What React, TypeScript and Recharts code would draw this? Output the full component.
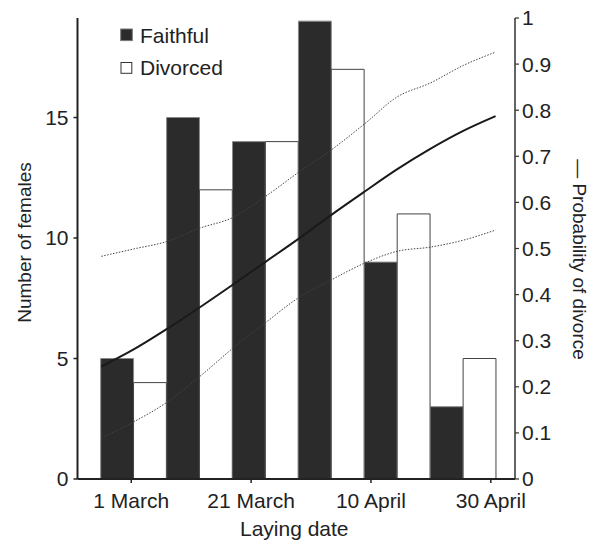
import React from 'react';
import { ComposedChart, Bar, Line, XAxis, YAxis, Legend } from 'recharts';

// Bar bins (day offset from 1 March, bin centres)
const binDays = [0.4, 11.4, 22.4, 33.4, 44.4, 55.4];
const faithful = [5, 15, 14, 19, 9, 3];
const divorced = [4, 12, 14, 17, 11, 5];

// Fitted probability of divorce with confidence limits
const curveDays = [-5, 0.4, 5.9, 11.4, 16.9, 22.4, 27.9, 33.4, 38.9, 44.4, 49.9, 55.4, 60.8];
const probability = [0.244, 0.281, 0.325, 0.372, 0.421, 0.471, 0.521, 0.573, 0.623, 0.672, 0.716, 0.755, 0.787];
const upperCI = [0.483, 0.499, 0.515, 0.544, 0.567, 0.613, 0.665, 0.714, 0.77, 0.829, 0.859, 0.897, 0.926];
const lowerCI = [0.089, 0.124, 0.166, 0.222, 0.283, 0.339, 0.393, 0.432, 0.468, 0.494, 0.503, 0.518, 0.54];

const xTickDays = [0, 20, 40, 60];
const xTickLabels = ['1 March', '21 March', '10 April', '30 April'];
const leftTicks = [0, 5, 10, 15];
const rightTicks = [0, 0.1, 0.2, 0.3, 0.4, 0.5, 0.6, 0.7, 0.8, 0.9, 1];

const barTable = binDays.map((d, i) => ({ day: d, faithful: faithful[i], divorced: divorced[i] }));
const curveTable = curveDays.map((d, i) => ({ day: d, p: probability[i], hi: upperCI[i], lo: lowerCI[i] }));

const X_DOMAIN: [number, number] = [-8.97, 64.04];
const FONT = '"Liberation Sans", Arial, Helvetica, sans-serif';
const INK = '#222';

const renderLegend = () => (
  <svg width={130} height={64} style={{ display: 'block', fontFamily: FONT }}>
    <rect x={2.7} y={9} width={11.6} height={11.6} fill="#2b2b2b" stroke="#777" strokeWidth={1} />
    <text x={22} y={23.3} fontSize={21} fill={INK}>Faithful</text>
    <rect x={3} y={42.5} width={10.8} height={10.8} fill="#fff" stroke="#333" strokeWidth={1} />
    <text x={22} y={55} fontSize={21} fill={INK}>Divorced</text>
  </svg>
);

const leftLabel = (props: any) => {
  const vb = props.viewBox || { x: 0, y: 18, width: 77.5, height: 461 };
  const cx = vb.x + 24;
  const cy = vb.y + vb.height / 2 - 6;
  return (
    <text x={cx} y={cy} transform={`rotate(-90 ${cx} ${cy})`} textAnchor="middle" dominantBaseline="central"
      fontSize={19} fill={INK} fontFamily={FONT}>
      Number of females
    </text>
  );
};

const rightLabel = (props: any) => {
  const vb = props.viewBox || { x: 515, y: 18, width: 80, height: 461 };
  const cx = vb.x + 64;
  const cy = vb.y + vb.height / 2 + 11;
  return (
    <text x={cx} y={cy} transform={`rotate(90 ${cx} ${cy})`} textAnchor="middle" dominantBaseline="central"
      fontSize={19} fill={INK} fontFamily={FONT}>
      — Probability of divorce
    </text>
  );
};

const bottomLabel = (props: any) => {
  const vb = props.viewBox || { x: 77.5, y: 479, width: 437.5, height: 63 };
  const cx = vb.x + vb.width / 2 - 2;
  const cy = vb.y + 56.5;
  return (
    <text x={cx} y={cy} textAnchor="middle" fontSize={21} fill={INK} fontFamily={FONT}>
      Laying date
    </text>
  );
};

export default function App() {
  return (
    <div style={{ position: 'absolute', left: 0, top: 0, width: 595, height: 542, background: '#fff' }}>
      <ComposedChart
        width={595}
        height={542}
        data={barTable}
        margin={{ top: 18, right: 0, bottom: 0, left: 0 }}
        style={{ fontFamily: FONT }}
      >
        <XAxis
          xAxisId="bars"
          dataKey="day"
          type="number"
          orientation="top"
          height={0}
          domain={X_DOMAIN}
          allowDataOverflow
          hide
        />
        <XAxis
          xAxisId="curve"
          dataKey="day"
          type="number"
          domain={X_DOMAIN}
          allowDataOverflow
          ticks={xTickDays}
          interval={0}
          tickFormatter={(v: number) => xTickLabels[xTickDays.indexOf(v)] ?? ''}
          height={63}
          tickSize={4}
          tickMargin={10}
          axisLine={{ stroke: INK, strokeWidth: 2 }}
          tickLine={{ stroke: INK, strokeWidth: 1.5 }}
          tick={{ fontSize: 21, fill: INK, fontFamily: FONT }}
          label={bottomLabel}
        />
        <YAxis
          yAxisId="left"
          orientation="left"
          type="number"
          width={77.5}
          domain={[0, 19.13]}
          allowDataOverflow
          ticks={leftTicks}
          interval={0}
          tickSize={4}
          tickMargin={5}
          axisLine={{ stroke: INK, strokeWidth: 2 }}
          tickLine={{ stroke: INK, strokeWidth: 1.5 }}
          tick={{ fontSize: 21, fill: INK, fontFamily: FONT }}
          label={leftLabel}
        />
        <YAxis
          yAxisId="right"
          orientation="right"
          type="number"
          width={80}
          domain={[0, 1]}
          allowDataOverflow
          ticks={rightTicks}
          interval={0}
          tickSize={4}
          tickMargin={3}
          axisLine={{ stroke: '#333', strokeWidth: 1.5 }}
          tickLine={{ stroke: '#333', strokeWidth: 1.2 }}
          tick={{ fontSize: 21, fill: INK, fontFamily: FONT }}
          label={rightLabel}
        />
        <Legend
          layout="vertical"
          align="center"
          verticalAlign="middle"
          content={renderLegend}
          wrapperStyle={{ position: 'absolute', left: 118, top: 20, width: 130, height: 64 }}
        />
        <Bar
          xAxisId="bars"
          yAxisId="left"
          dataKey="faithful"
          barSize={32.85}
          fill="#2b2b2b"
          stroke="#8a8a8a"
          strokeWidth={1}
          isAnimationActive={false}
        />
        <Bar
          xAxisId="bars"
          yAxisId="left"
          dataKey="divorced"
          barSize={32.85}
          fill="#ffffff"
          stroke="#444"
          strokeWidth={1}
          isAnimationActive={false}
        />
        <Line
          xAxisId="curve"
          yAxisId="right"
          data={curveTable}
          dataKey="hi"
          type="monotone"
          stroke="#444"
          strokeWidth={1}
          strokeDasharray="1.5 1.5"
          dot={false}
          activeDot={false}
          isAnimationActive={false}
        />
        <Line
          xAxisId="curve"
          yAxisId="right"
          data={curveTable}
          dataKey="lo"
          type="monotone"
          stroke="#444"
          strokeWidth={1}
          strokeDasharray="1.5 1.5"
          dot={false}
          activeDot={false}
          isAnimationActive={false}
        />
        <Line
          xAxisId="curve"
          yAxisId="right"
          data={curveTable}
          dataKey="p"
          type="monotone"
          stroke="#1a1a1a"
          strokeWidth={2}
          dot={false}
          activeDot={false}
          isAnimationActive={false}
        />
      </ComposedChart>
    </div>
  );
}
